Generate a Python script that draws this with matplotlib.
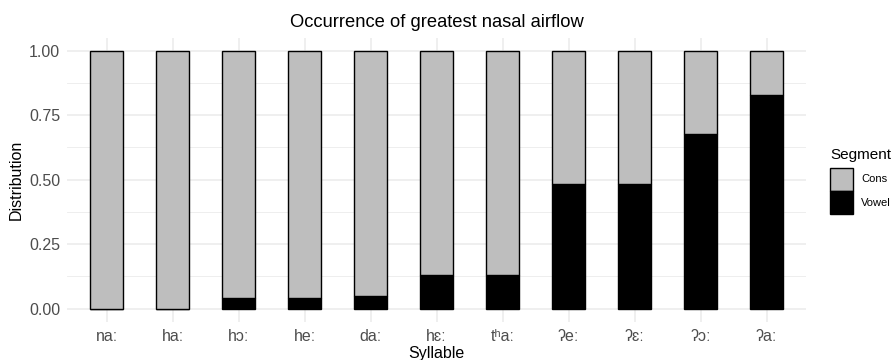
import matplotlib
matplotlib.use("Agg")
import matplotlib.pyplot as plt
from matplotlib.patches import Rectangle
import numpy as np

plt.rcParams['font.family'] = ['Liberation Sans', 'DejaVu Sans']

syllables = ["naː", "haː", "hɔː", "heː", "daː", "hɛː", "tʰaː", "ʔeː", "ʔɛː", "ʔɔː", "ʔaː"]
vowel = [0.0, 0.0, 0.04, 0.04, 0.05, 0.132, 0.132, 0.485, 0.485, 0.678, 0.828]
cons = [1.0, 1.0, 0.96, 0.957, 0.95, 0.868, 0.868, 0.515, 0.515, 0.322, 0.172]
segments = ["Cons", "Vowel"]
seg_colors = {"Cons": "#bebebe", "Vowel": "black"}

W, H = 893, 360
fig = plt.figure(figsize=(W / 100, H / 100), dpi=100)
ax = fig.add_axes([67 / W, 1 - 321.6 / H, (806.3 - 67) / W, (321.6 - 37.8) / H])

x = np.arange(len(syllables))
grid_c = "#ebebeb"
for yv in [0.125, 0.375, 0.625, 0.875]:
    ax.axhline(yv, color=grid_c, lw=0.6, zorder=0)
for yv in [0, 0.25, 0.5, 0.75, 1.0]:
    ax.axhline(yv, color=grid_c, lw=1.1, zorder=0)
for xv in x:
    ax.axvline(xv, color=grid_c, lw=1.1, zorder=0)

ax.bar(x, vowel, width=0.5, color=seg_colors["Vowel"], edgecolor="black", lw=1.0, zorder=2)
ax.bar(x, cons, bottom=vowel, width=0.5, color=seg_colors["Cons"], edgecolor="black", lw=1.0, zorder=2)

ax.set_xlim(-0.6, len(syllables) - 0.4)
ax.set_ylim(-0.05, 1.05)
ax.set_xticks(x)
ax.set_xticklabels(syllables)
ax.set_yticks([0, 0.25, 0.5, 0.75, 1.0])
ax.set_yticklabels(["0.00", "0.25", "0.50", "0.75", "1.00"])
ax.tick_params(axis='both', length=0, labelsize=11.5, colors="#4d4d4d", pad=5)
for s in ax.spines.values():
    s.set_visible(False)

ax.set_xlabel("Syllable", fontsize=11.5, labelpad=2)
ax.set_ylabel("Distribution", fontsize=11.5, labelpad=4)
ax.set_title("Occurrence of greatest nasal airflow", fontsize=13.2, pad=8)

# legend drawn manually (ggplot-style keys)
fig.text(830 / W, 1 - 159 / H, "Segment", fontsize=11, va="baseline", ha="left")
key_top = 168
for i, seg in enumerate(segments):
    top = key_top + i * 23
    fig.add_artist(Rectangle((829.5 / W, 1 - (top + 23) / H), 23 / W, 23 / H,
                             transform=fig.transFigure, facecolor=seg_colors[seg],
                             edgecolor="black", lw=1.0))
    fig.text(861 / W, 1 - (top + 11.5) / H, seg, fontsize=8, va="center", ha="left")

fig.savefig("out.png", dpi=100)
